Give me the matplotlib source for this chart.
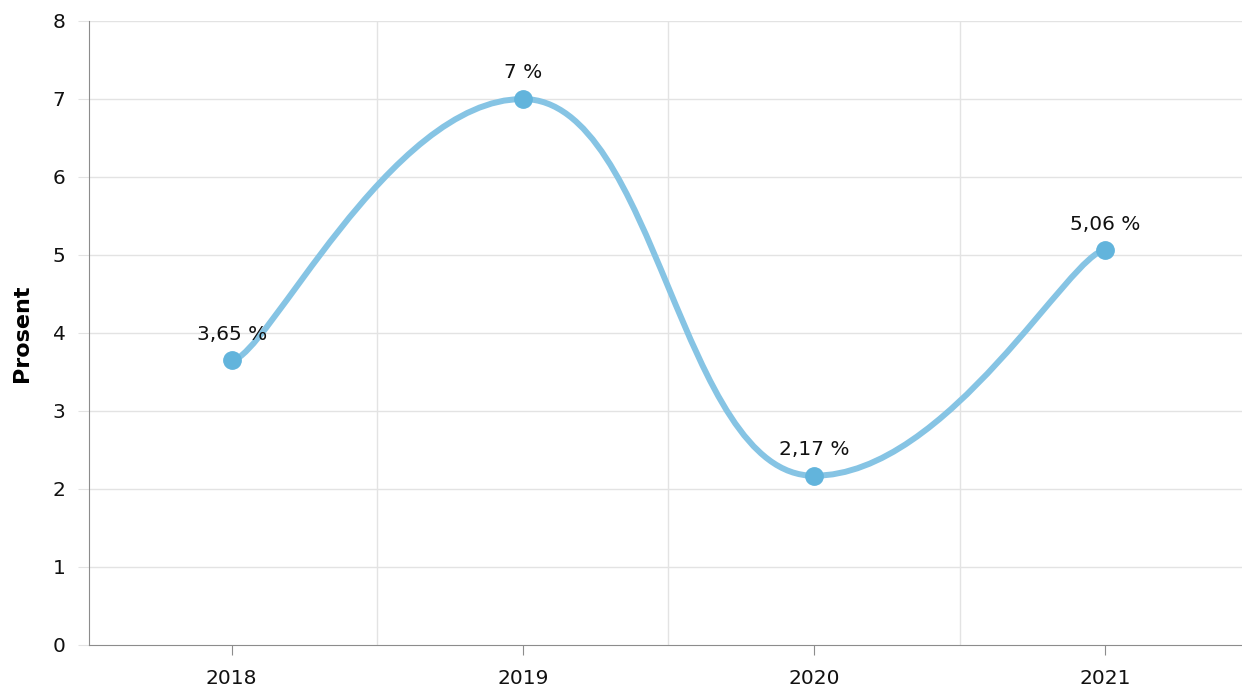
import matplotlib.pyplot as plt
from matplotlib.path import Path
from matplotlib.patches import PathPatch

# Data
years = ['2018', '2019', '2020', '2021']
values = [3.65, 7.0, 2.17, 5.06]
labels = ['3,65 %', '7 %', '2,17 %', '5,06 %']

line_color = '#86c4e4'
marker_color = '#62b4dc'
grid_color = '#e3e3e3'
axis_color = '#8c8c8c'


def tension_path(xs, ys, k=0.23):
    # smoothed line with flat y handles; end points get shorter handles
    n = len(xs)
    verts = [(xs[0], ys[0])]
    codes = [Path.MOVETO]
    for i in range(n - 1):
        x1, x2 = xs[i], xs[i + 1]
        span_a = (x2 - xs[i - 1]) if i > 0 else (x2 - x1) / 2
        span_b = (xs[i + 2] - x1) if i + 2 < n else (x2 - x1) / 2
        ca = (x1 + k * span_a, ys[i])
        cb = (x2 - k * span_b, ys[i + 1])
        verts += [ca, cb, (x2, ys[i + 1])]
        codes += [Path.CURVE4] * 3
    return Path(verts, codes)


fig = plt.figure(figsize=(12.42, 6.93), dpi=100)
ax = fig.add_axes([89 / 1242, 1 - 645 / 693, 1 - 89 / 1242, (645 - 21) / 693])

xpos = list(range(len(years)))
ax.add_patch(PathPatch(tension_path(xpos, values), facecolor='none',
                       edgecolor=line_color, lw=4.3, capstyle='round', zorder=3))
ax.plot(xpos, values, 'o', color=marker_color, markersize=12.5, zorder=4)

for x, v, t in zip(xpos, values, labels):
    ax.annotate(t, (x, v), xytext=(0, 12), textcoords='offset points',
                ha='center', va='bottom', fontsize=14.5, color='#111111', zorder=5)

ax.set_xlim(-0.49, 3.47)
ax.set_ylim(0, 8)
ax.set_yticks(range(0, 9))
ax.set_xticks(xpos)
ax.set_xticklabels(years)

# grid lines: horizontal at ticks, vertical between categories
for y in range(1, 9):
    ax.axhline(y, color=grid_color, lw=1, zorder=1)
for b in [0.5, 1.5, 2.5]:
    ax.axvline(b, color=grid_color, lw=1, zorder=1)

for s in ['top', 'right']:
    ax.spines[s].set_visible(False)
ax.spines['left'].set_color(axis_color)
ax.spines['bottom'].set_color(axis_color)
ax.tick_params(axis='y', length=8, color=grid_color, labelsize=14.5, pad=9, labelcolor='#111111')
ax.tick_params(axis='x', length=7, color=axis_color, labelsize=14.5, pad=10, labelcolor='#111111')

ax.set_ylabel('Prosent', fontsize=16, fontweight='bold')
ax.yaxis.set_label_coords(-57 / 1153, 0.5)

fig.savefig('out.png', dpi=100)
